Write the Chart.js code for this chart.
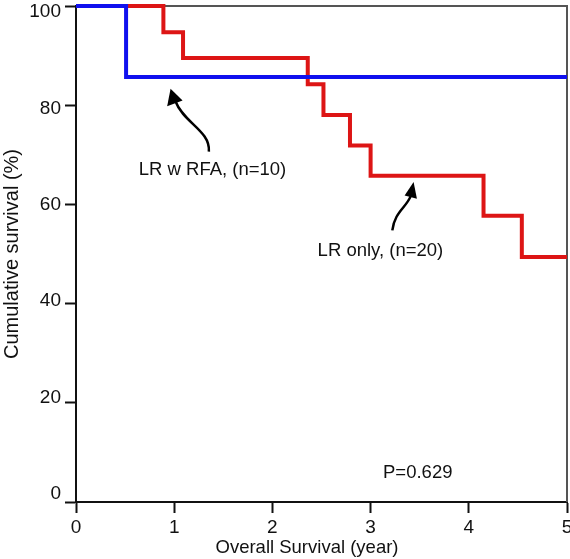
<!DOCTYPE html>
<html>
<head>
<meta charset="utf-8">
<script src="https://cdn.jsdelivr.net/npm/chart.js@4/dist/chart.umd.min.js"></script>
<style>
  html, body { margin: 0; padding: 0; background: #fff; }
  #wrap { width: 570px; height: 559px; position: relative; }
</style>
</head>
<body>
<div id="wrap"><canvas id="kmChart"></canvas></div>
<script>
// Kaplan-Meier curves
const rfaTimes = [0, 0.51, 5];
const rfaSurvival = [100, 85.7, 85.7];
const lrTimes = [0, 0.89, 1.09, 2.36, 2.52, 2.79, 3.0, 4.15, 4.54, 5];
const lrSurvival = [100, 94.7, 89.5, 84.2, 78.0, 71.9, 65.8, 57.7, 49.4, 49.4];
const xTicks = [0, 1, 2, 3, 4, 5];
const yTicks = [0, 20, 40, 60, 80, 100];

const FONT = 'Liberation Sans, Arial, Helvetica, sans-serif';

function toPoints(times, values) {
  return times.map((t, i) => ({ x: t, y: values[i] }));
}

// labels and arrows placed in data units
const notes = [
  { text: 'LR w RFA, (n=10)', x: 1.39, y: 66.9 },
  { text: 'LR only, (n=20)', x: 3.1, y: 50.7 },
  { text: 'P=0.629', x: 3.48, y: 5.9 },
];
const arrows = [
  // tip in data units, shape in pixel offsets from the tip
  { x: 0.963, y: 83.3, path: [[38.3, 62.7], [40, 42], [13, 34], [5, 12.7]], head: [[-3.4, 17.4], [12, 11.7]] },
  { x: 3.438, y: 64.5, path: [[-21.3, 48.3], [-19, 30], [-8, 26], [-3, 14.3]], head: [[-9, 13.3], [3.3, 16.6]] },
];

const decorations = {
  id: 'decorations',
  beforeDraw(chart) {
    // y labels in the original sit a bit closer together than the ticks
    const items = chart.scales.y.getLabelItems();
    items.forEach((it) => {
      if (it._moved) return;
      const v = parseFloat(it.label);
      it.options.translation[1] += -8 + 0.14 * v;
      it._moved = true;
    });
  },
  beforeDatasetsDraw(chart) {
    const { ctx, chartArea } = chart;
    ctx.save();
    ctx.strokeStyle = '#555';
    ctx.lineWidth = 2;
    ctx.beginPath();
    ctx.moveTo(chartArea.left, chartArea.top);
    ctx.lineTo(chartArea.right, chartArea.top);
    ctx.lineTo(chartArea.right, chartArea.bottom);
    ctx.stroke();
    ctx.restore();
  },
  afterDraw(chart) {
    const { ctx } = chart;
    const xs = chart.scales.x;
    const ys = chart.scales.y;
    ctx.save();
    ctx.fillStyle = '#111';
    ctx.font = '18.5px ' + FONT;
    ctx.textAlign = 'center';
    ctx.textBaseline = 'middle';
    notes.forEach((n) => {
      ctx.fillText(n.text, xs.getPixelForValue(n.x), ys.getPixelForValue(n.y));
    });

    // x axis title
    ctx.fillText('Overall Survival (year)', 307, 548);

    ctx.strokeStyle = '#000';
    ctx.fillStyle = '#000';
    ctx.lineWidth = 2.5;
    arrows.forEach((a) => {
      const tx = xs.getPixelForValue(a.x);
      const ty = ys.getPixelForValue(a.y);
      const p = a.path.map(([dx, dy]) => [tx + dx, ty + dy]);
      ctx.beginPath();
      ctx.moveTo(p[0][0], p[0][1]);
      ctx.bezierCurveTo(p[1][0], p[1][1], p[2][0], p[2][1], p[3][0], p[3][1]);
      ctx.stroke();
      ctx.beginPath();
      ctx.moveTo(tx, ty);
      ctx.lineTo(tx + a.head[0][0], ty + a.head[0][1]);
      ctx.lineTo(tx + a.head[1][0], ty + a.head[1][1]);
      ctx.closePath();
      ctx.fill();
    });
    ctx.restore();
  },
};

const ctx = document.getElementById('kmChart');
new Chart(ctx, {
  type: 'line',
  data: {
    datasets: [
      {
        label: 'LR w RFA',
        data: toPoints(rfaTimes, rfaSurvival),
        borderColor: '#1010ee',
        borderWidth: 4,
        stepped: true,
        pointRadius: 0,
        fill: false,
        clip: 6,
      },
      {
        label: 'LR only',
        data: toPoints(lrTimes, lrSurvival),
        borderColor: '#dd1515',
        borderWidth: 4,
        stepped: true,
        pointRadius: 0,
        fill: false,
        clip: 6,
      },
    ],
  },
  options: {
    responsive: true,
    maintainAspectRatio: false,
    animation: false,
    layout: { padding: { top: 6, right: 3, left: 0, bottom: 0 } },
    plugins: {
      legend: { display: false },
      tooltip: { enabled: false },
    },
    scales: {
      x: {
        type: 'linear',
        min: 0,
        max: 5,
        afterBuildTicks: (scale) => {
          scale.ticks = xTicks.map((v) => ({ value: v }));
        },
        afterFit: (scale) => {
          scale.height = 57;
          scale.paddingLeft = 0;
          scale.paddingRight = 0;
        },
        ticks: {
          color: '#111',
          font: { family: FONT, size: 19 },
          padding: 3,
          maxRotation: 0,
        },
        grid: {
          drawOnChartArea: false,
          tickLength: 11,
          tickWidth: 2,
          tickColor: '#111',
        },
        border: { color: '#111', width: 2 },
      },
      y: {
        min: 0,
        max: 100,
        afterBuildTicks: (scale) => {
          scale.ticks = yTicks.map((v) => ({ value: v }));
        },
        afterFit: (scale) => {
          scale.width = 76;
          scale.paddingTop = 0;
          scale.paddingBottom = 0;
        },
        ticks: {
          color: '#111',
          font: { family: FONT, size: 19 },
          padding: 4,
        },
        grid: {
          drawOnChartArea: false,
          tickLength: 11,
          tickWidth: 2,
          tickColor: '#111',
        },
        border: { color: '#111', width: 2 },
        title: {
          display: true,
          text: 'Cumulative survival (%)',
          color: '#111',
          font: { family: FONT, size: 20 },
          padding: { top: 0, bottom: 0 },
        },
      },
    },
  },
  plugins: [decorations],
});
</script>
</body>
</html>
